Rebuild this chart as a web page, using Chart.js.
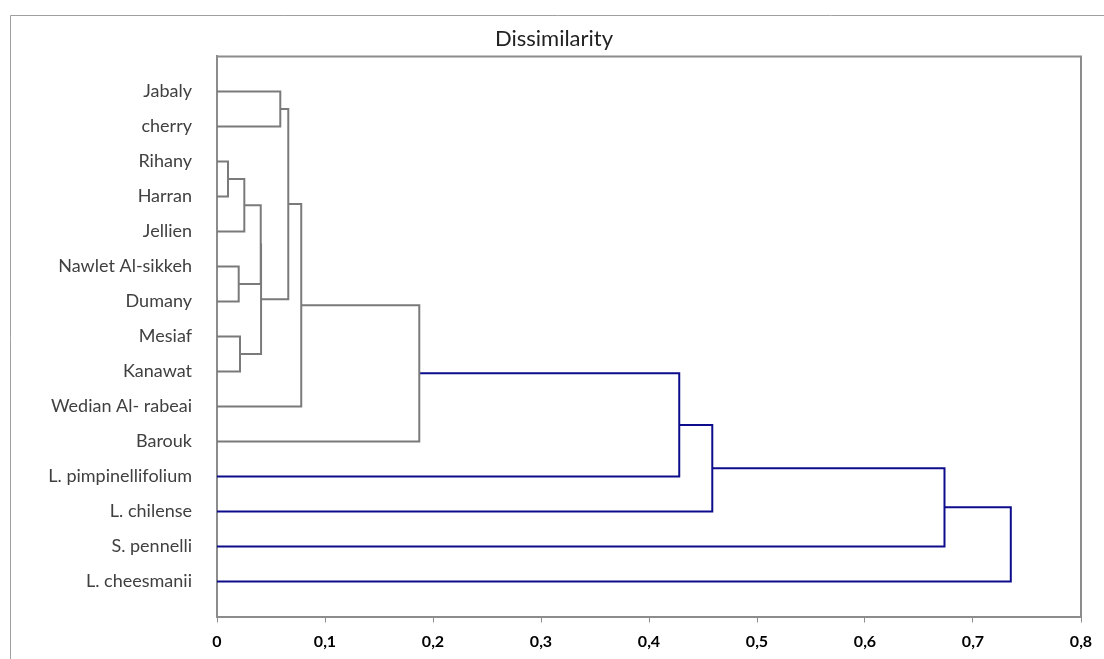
<!DOCTYPE html>
<html>
<head>
<meta charset="utf-8">
<script src="https://cdn.jsdelivr.net/npm/chart.js@4"></script>
<style>
  html, body { margin: 0; padding: 0; background: #fff; overflow: hidden; }
</style>
</head>
<body>
<canvas id="myChart" width="1104" height="659"></canvas>
<script>
// leaves, top to bottom
const leaves = ['Jabaly', 'cherry', 'Rihany', 'Harran', 'Jellien', 'Nawlet Al-sikkeh', 'Dumany',
  'Mesiaf', 'Kanawat', 'Wedian Al- rabeai', 'Barouk', 'L. pimpinellifolium', 'L. chilense',
  'S. pennelli', 'L. cheesmanii'];

// merges: child index < 15 is a leaf, otherwise merge (index - 15)
const mergeLeft   = [0, 2, 16, 5, 7, 17, 20, 15, 22, 23, 24, 25, 26, 27];
const mergeRight  = [1, 3, 4, 6, 8, 18, 19, 21, 9, 10, 11, 12, 13, 14];
const mergeHeight = [0.0586, 0.0102, 0.0253, 0.0201, 0.0213, 0.0405, 0.0408, 0.0660, 0.0780,
  0.1873, 0.4280, 0.4586, 0.6736, 0.7350];

const xTicks = [0, 0.1, 0.2, 0.3, 0.4, 0.5, 0.6, 0.7, 0.8];
const truncation = 0.2;

const n = leaves.length;
const posY = [], posX = [];
leaves.forEach((l, i) => { posY.push(i + 1); posX.push(0); });

const datasets = [];
mergeHeight.forEach((h, k) => {
  const a = mergeLeft[k], b = mergeRight[k];
  posY.push((posY[a] + posY[b]) / 2);
  posX.push(h);
  datasets.push({
    data: [
      { x: posX[a], y: posY[a] },
      { x: h, y: posY[a] },
      { x: h, y: posY[b] },
      { x: posX[b], y: posY[b] }
    ],
    showLine: true,
    borderColor: h < truncation ? '#7a7a7a' : '#0c0c8c',
    borderWidth: 2,
    pointRadius: 0,
    tension: 0,
    fill: false
  });
});

const frame = {
  id: 'frame',
  beforeDraw(chart) {
    const c = chart.ctx;
    c.save();
    c.strokeStyle = '#a0a0a0';
    c.lineWidth = 1;
    c.beginPath();
    c.moveTo(10.5, 659);
    c.lineTo(10.5, 15.5);
    c.lineTo(1104, 15.5);
    c.stroke();
    c.restore();
  },
  afterDatasetsDraw(chart) {
    const a = chart.chartArea, c = chart.ctx;
    c.save();
    c.strokeStyle = '#8c8c8c';
    c.lineWidth = 2;
    c.beginPath();
    c.moveTo(a.left, a.top);
    c.lineTo(a.right, a.top);
    c.lineTo(a.right, a.bottom);
    c.stroke();
    c.restore();
  }
};

const ctx = document.getElementById('myChart').getContext('2d');
const chart = new Chart(ctx, {
  type: 'scatter',
  data: { datasets: datasets },
  plugins: [frame],
  options: {
    responsive: false,
    animation: false,
    layout: { padding: { left: 27, right: 23, top: 0, bottom: 0 } },
    plugins: {
      legend: { display: false },
      tooltip: { enabled: false },
      title: {
        display: true,
        text: 'Dissimilarity',
        color: '#222',
        font: { family: 'Lato', size: 22, weight: 'normal' },
        padding: { top: 26, bottom: 4 }
      }
    },
    scales: {
      x: {
        type: 'linear',
        min: 0,
        max: 0.8,
        afterBuildTicks: (s) => { s.ticks = xTicks.map(v => ({ value: v })); },
        afterFit: (s) => { s.height = 42.5; },
        ticks: {
          color: '#000',
          font: { family: 'Lato', size: 16, weight: 'bold' },
          padding: 10,
          callback: (v) => v === 0 ? '0' : v.toFixed(1).replace('.', ',')
        },
        grid: { drawOnChartArea: false, drawTicks: true, tickLength: 6, color: '#8c8c8c', lineWidth: 1 },
        border: { color: '#8c8c8c', width: 2 }
      },
      y: {
        type: 'linear',
        min: 0,
        max: n + 1,
        reverse: true,
        afterBuildTicks: (s) => { s.ticks = leaves.map((l, i) => ({ value: i + 1 })); },
        afterFit: (s) => { s.width = 190; },
        ticks: {
          color: '#404040',
          font: { family: 'Lato', size: 18 },
          padding: 25,
          autoSkip: false,
          callback: (v) => leaves[v - 1] || ''
        },
        grid: { drawOnChartArea: false, drawTicks: false },
        border: { color: '#8c8c8c', width: 2 }
      }
    }
  }
});
</script>
</body>
</html>
